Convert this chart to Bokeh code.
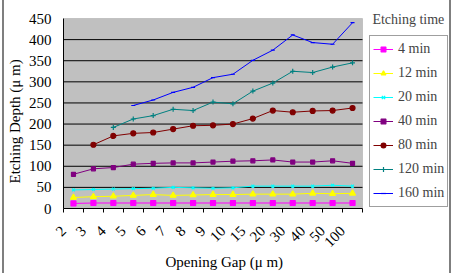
from bokeh.plotting import figure
from bokeh.models import (FixedTicker, Legend, LegendItem, Label, BoxAnnotation,
                          Title, InlineStyleSheet)
from bokeh.embed import file_html
from bokeh.resources import INLINE
import math

# Opening gap categories (µm) and etching depth (µm) per etching time
gaps = ["2", "3", "4", "5", "6", "7", "8", "9", "10", "15", "20", "30", "40", "50", "100"]
depth_ticks = [0, 50, 100, 150, 200, 250, 300, 350, 400, 450]
depth_4min = [12, 13, 13, 13, 13, 13, 13, 13, 13, 13, 13, 13, 13, 13, 13]
depth_12min = [26, 28, 29, 31, 33, 31, 32, 33, 33, 34, 34, 34, 36, 35, 36]
depth_20min = [44, 45, 46, 47, 48, 50, 49, 48, 49, 53, 53, 53, 53, 55, 53]
depth_40min = [81, 94, 97, 105, 107, 108, 108, 110, 112, 113, 115, 110, 110, 113, 107]
depth_80min = [None, 151, 172, 178, 180, 188, 196, 197, 200, 213, 232, 228, 231, 232, 238]
depth_120min = [None, None, 192, 212, 220, 235, 232, 252, 248, 278, 297, 325, 322, 335, 345]
depth_160min = [None, None, None, 244, 257, 275, 287, 310, 318, 351, 375, 411, 393, 389, 440]

series = [
    ("4 min", depth_4min, "#ff00ff", "square", 5),
    ("12 min", depth_12min, "#ffff00", "triangle", 6),
    ("20 min", depth_20min, "#00ffff", "x", 4),
    ("40 min", depth_40min, "#800080", "square", 4),
    ("80 min", depth_80min, "#800000", "circle", 5),
    ("120 min", depth_120min, "#008080", "cross", 5),
    ("160 min", depth_160min, "#0000ff", "dash", 4),
]

FONT = "Liberation Serif"
xs = list(range(len(gaps)))
x_lo, x_hi = -0.5, len(gaps) - 0.5
y_lo, y_hi = depth_ticks[0], depth_ticks[-1]

# The frame also holds the legend column on the right and a strip on top,
# so the ranges run past the plot area: plot area is 299x190 px inside a
# 386x208 px frame.
AREA_W, AREA_H = 299, 190
FRAME_W, FRAME_H = 386, 208
x_end = x_lo + (x_hi - x_lo) * FRAME_W / AREA_W
y_end = y_lo + (y_hi - y_lo) * FRAME_H / AREA_H

# grey rules on the left and right of the chart box
edges = InlineStyleSheet(css="""
:host { position: relative; }
:host::before, :host::after {
  content: ""; position: absolute; top: 0; bottom: 0; width: 2px;
  background: #7f7f7f; z-index: 50; pointer-events: none;
}
:host::before { left: 0; }
:host::after { right: 0; }
""")

p = figure(
    frame_width=FRAME_W, frame_height=FRAME_H,
    x_range=(x_lo, x_end), y_range=(y_lo, y_end),
    output_backend="svg", toolbar_location=None,
    min_border_left=61, min_border_right=2,
    min_border_top=0, min_border_bottom=65,
    styles={"margin-left": "2px"},
    stylesheets=[edges],
)
p.background_fill_color = "white"
p.border_fill_color = "white"
p.outline_line_color = None
p.grid.visible = False

# grey plot area with its frame
p.add_layout(BoxAnnotation(
    left=x_lo, right=x_hi, bottom=y_lo, top=y_hi, level="image",
    fill_color="#c0c0c0", fill_alpha=1, line_color="#808080", line_width=1,
))
# horizontal gridlines across the plot area only
inner = depth_ticks[1:-1]
p.segment(x0=[x_lo] * len(inner), x1=[x_hi] * len(inner), y0=inner, y1=inner,
          line_color="black", line_width=1)

p.yaxis.bounds = (y_lo, y_hi)
p.yaxis.ticker = FixedTicker(ticks=depth_ticks)
p.yaxis.major_tick_out = 0
p.yaxis.major_tick_in = 0
p.yaxis.minor_tick_out = 0
p.yaxis.axis_line_color = "black"
p.yaxis.major_label_text_font = FONT
p.yaxis.major_label_text_font_size = "15px"
p.yaxis.major_label_text_color = "black"
p.yaxis.major_label_standoff = 12

# x axis: tick marks on category boundaries, each label hangs from the
# boundary to the left of its category
bounds = [i - 0.5 for i in range(len(gaps) + 1)]
labels = {b: (gaps[i] if i < len(gaps) else "") for i, b in enumerate(bounds)}
p.xaxis.bounds = (x_lo, x_hi)
p.xaxis.ticker = FixedTicker(ticks=bounds, minor_ticks=[])
p.xaxis.major_label_overrides = labels
p.xaxis.major_tick_out = 4
p.xaxis.major_tick_in = 0
p.xaxis.major_tick_line_color = "black"
p.xaxis.axis_line_color = "black"
p.xaxis.major_label_orientation = math.pi / 4
p.xaxis.major_label_text_font = FONT
p.xaxis.major_label_text_font_size = "15px"
p.xaxis.major_label_text_color = "black"
p.xaxis.major_label_standoff = 16

# axis titles, placed relative to the plot area
title_style = dict(text_font=FONT, text_font_size="15px",
                   text_font_style="normal", text_color="black")
p.add_layout(Title(text="Opening Gap (μ m)", align="left", offset=102,
                   standoff=-6, **title_style), "below")
p.add_layout(Title(text="Etching Depth (μ m)", align="left", offset=25,
                   standoff=5, **title_style), "left")

items = []
for name, vals, color, marker, size in series:
    ys = [float("nan") if v is None else v for v in vals]
    ln = p.line(xs, ys, line_color=color, line_width=1)
    mk = p.scatter(xs, ys, marker=marker, size=size, fill_color=color,
                   line_color=color, line_width=1.2)
    items.append(LegendItem(label=name, renderers=[ln, mk]))

legend = Legend(
    items=items, location=(306, 1),
    background_fill_color="white", background_fill_alpha=1,
    border_line_color="#404040", border_line_width=1,
    label_text_font=FONT, label_text_font_size="14px",
    glyph_width=20, glyph_height=12, label_height=20,
    spacing=4, padding=3, margin=0, label_standoff=5,
)
p.add_layout(legend, "center")

p.add_layout(Label(
    x=16.8, y=447, text="Etching time", text_font=FONT,
    text_font_size="14px", text_align="center", text_baseline="middle",
))

open("out.html", "w").write(file_html(p, INLINE))
